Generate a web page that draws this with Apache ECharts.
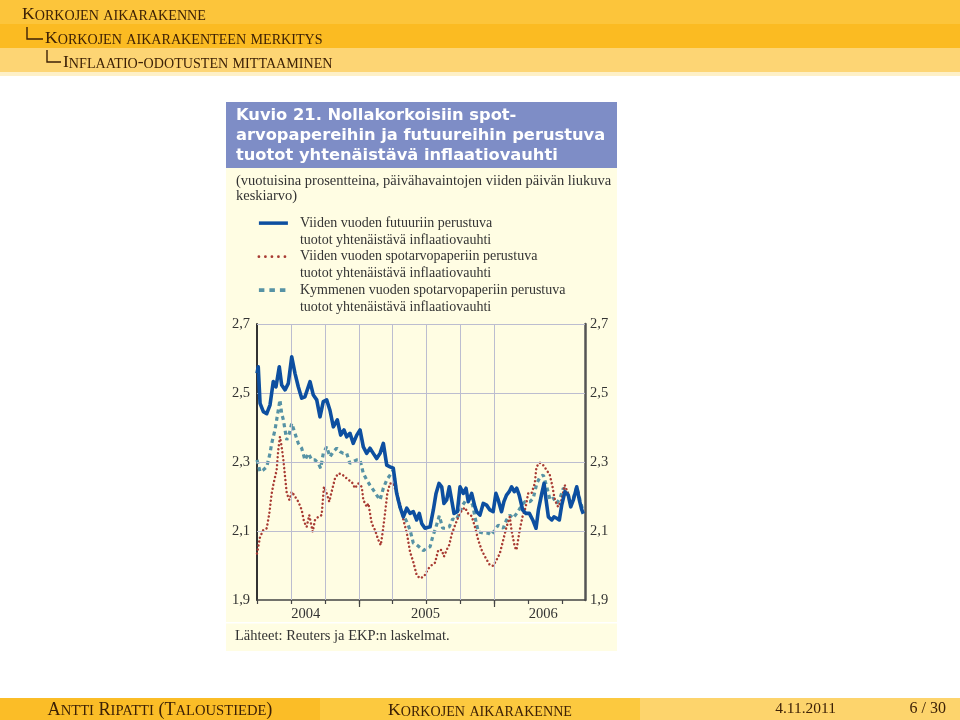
<!DOCTYPE html>
<html><head><meta charset="utf-8">
<script src="https://cdn.jsdelivr.net/npm/echarts@6/dist/echarts.min.js"></script>
<style>html,body{margin:0;padding:0;background:#fff}#c{width:960px;height:720px}</style>
</head><body><div id="c"></div>
<script>
// ---- data (x = months since 1 Jan 2004) ----
const futMonths = [3.0,3.11,3.27,3.56,3.86,4.15,4.44,4.68,4.97,5.18,5.48,5.77,6.07,6.36,6.65,6.95,7.24,7.69,7.98,8.28,8.57,8.86,9.16,9.45,9.75,10.10,10.40,10.69,10.93,11.22,11.51,11.82,12.11,12.40,12.70,12.99,13.28,13.58,13.88,14.17,14.47,14.76,15.05,15.35,15.64,15.94,16.24,16.53,16.82,17.12,17.35,17.56,17.85,18.30,18.59,18.83,19.09,19.33,19.53,19.77,20.00,20.21,20.42,20.71,20.95,21.24,21.48,21.68,21.98,22.27,22.42,22.71,23.00,23.30,23.59,23.88,24.12,24.33,24.62,24.83,25.06,25.30,25.51,25.75,25.96,26.18,26.49,26.78,27.08,27.38,27.67,27.88,28.18,28.38,28.56,28.76,29.06,29.26,29.50,29.73,29.94,30.23,30.52,30.74,30.97,31.27,31.50,31.72,31.85];
const futValues = [2.557,2.576,2.47,2.446,2.44,2.465,2.533,2.518,2.576,2.523,2.509,2.528,2.605,2.557,2.518,2.485,2.489,2.533,2.494,2.48,2.431,2.475,2.48,2.45,2.402,2.422,2.378,2.393,2.373,2.383,2.354,2.378,2.393,2.344,2.325,2.34,2.325,2.31,2.325,2.354,2.291,2.286,2.282,2.209,2.17,2.141,2.166,2.151,2.156,2.132,2.151,2.122,2.108,2.112,2.161,2.209,2.238,2.228,2.18,2.19,2.228,2.19,2.151,2.156,2.228,2.209,2.224,2.185,2.209,2.17,2.156,2.146,2.18,2.175,2.161,2.156,2.209,2.19,2.156,2.185,2.204,2.214,2.228,2.214,2.224,2.204,2.161,2.151,2.151,2.132,2.108,2.161,2.209,2.238,2.19,2.141,2.132,2.141,2.137,2.132,2.175,2.214,2.204,2.17,2.19,2.228,2.19,2.161,2.15];

const spot5Months = [3.0,3.11,3.27,3.56,3.86,4.09,4.30,4.50,4.74,4.88,5.03,5.18,5.33,5.48,5.63,5.86,6.07,6.36,6.65,6.95,7.16,7.39,7.62,7.92,8.13,8.42,8.72,8.92,9.16,9.39,9.60,9.90,10.19,10.49,10.78,11.07,11.37,11.66,11.96,12.26,12.40,12.70,12.85,13.14,13.43,13.73,13.94,14.12,14.32,14.52,14.76,15.05,15.35,15.64,15.94,16.24,16.53,16.82,17.12,17.41,17.77,18.15,18.45,18.74,19.03,19.33,19.53,19.77,20.00,20.21,20.51,20.80,21.10,21.39,21.68,21.98,22.27,22.56,22.86,23.15,23.59,23.88,24.18,24.47,24.77,25.06,25.35,25.50,25.79,25.94,26.23,26.47,26.76,26.97,27.27,27.56,27.71,28.00,28.30,28.60,28.89,29.13,29.33,29.62,29.92,30.21,30.50,30.79,31.08,31.38,31.68];
const spot5Values = [2.035,2.054,2.083,2.103,2.108,2.151,2.209,2.243,2.277,2.335,2.373,2.344,2.306,2.257,2.209,2.19,2.214,2.2,2.185,2.161,2.127,2.112,2.146,2.098,2.132,2.141,2.146,2.228,2.209,2.185,2.214,2.253,2.267,2.265,2.257,2.248,2.243,2.224,2.238,2.228,2.19,2.17,2.18,2.122,2.103,2.074,2.059,2.098,2.151,2.209,2.238,2.238,2.209,2.18,2.132,2.095,2.04,2.01,1.972,1.963,1.968,1.991,2.001,2.008,2.045,2.045,2.026,2.045,2.06,2.09,2.117,2.14,2.16,2.168,2.15,2.143,2.112,2.074,2.045,2.026,2.001,1.999,2.016,2.035,2.074,2.112,2.141,2.103,2.054,2.045,2.103,2.141,2.17,2.209,2.209,2.238,2.286,2.298,2.291,2.277,2.262,2.228,2.19,2.17,2.19,2.233,2.209,2.175,2.204,2.219,2.161];

const spot10Months = [3.0,3.27,3.56,3.86,4.15,4.30,4.59,4.88,5.03,5.18,5.33,5.48,5.63,5.86,6.07,6.36,6.65,6.95,7.24,7.54,7.84,8.13,8.42,8.63,8.86,9.16,9.45,9.75,10.05,10.34,10.63,10.93,11.22,11.51,11.82,12.11,12.40,12.70,12.99,13.28,13.58,13.88,14.17,14.47,14.76,15.05,15.35,15.64,15.94,16.24,16.53,16.82,17.12,17.41,17.70,18.00,18.30,18.53,18.83,19.12,19.42,19.71,20.00,20.30,20.60,20.89,21.19,21.48,21.77,22.07,22.27,22.56,23.00,23.44,23.74,24.03,24.33,24.77,25.06,25.35,25.64,26.08,26.40,26.70,27.14,27.43,27.74,28.03,28.32,28.62,28.91,29.20,29.50,29.79,30.08,30.38,30.67,30.97,31.27,31.56,31.80];
const spot10Values = [2.306,2.272,2.277,2.286,2.325,2.354,2.393,2.45,2.48,2.441,2.422,2.393,2.364,2.383,2.412,2.383,2.354,2.34,2.306,2.325,2.306,2.306,2.296,2.282,2.325,2.344,2.315,2.33,2.34,2.33,2.325,2.325,2.296,2.301,2.306,2.306,2.267,2.248,2.233,2.219,2.204,2.19,2.224,2.248,2.262,2.277,2.209,2.17,2.146,2.127,2.103,2.065,2.06,2.052,2.043,2.05,2.054,2.083,2.112,2.144,2.108,2.108,2.112,2.135,2.132,2.15,2.175,2.19,2.195,2.175,2.141,2.098,2.094,2.094,2.088,2.103,2.117,2.108,2.132,2.146,2.137,2.156,2.175,2.185,2.185,2.195,2.238,2.257,2.262,2.228,2.19,2.195,2.18,2.195,2.224,2.219,2.185,2.195,2.228,2.19,2.161];

const yTickValues = [1.9, 2.1, 2.3, 2.5, 2.7];
const yGridValues = [2.1, 2.3, 2.5, 2.7];
const xTickMonths = [3, 6, 9, 12, 15, 18, 21, 24, 27, 30];
const yearTickMonths = [12, 24];
const xGridMonths = [6, 9, 12, 15, 18, 21, 24];
const yearLabels = ['2004', '2005', '2006'];
const yearLabelMonths = [7.3, 17.9, 28.3];

const seriesNames = [
  'Viiden vuoden futuuriin perustuva\ntuotot yhtenäistävä inflaatiovauhti',
  'Viiden vuoden spotarvopaperiin perustuva\ntuotot yhtenäistävä inflaatiovauhti',
  'Kymmenen vuoden spotarvopaperiin perustuva\ntuotot yhtenäistävä inflaatiovauhti'
];
const titleLines = ['Kuvio 21. Nollakorkoisiin spot-', 'arvopapereihin ja futuureihin perustuva', 'tuotot yhtenäistävä inflaatiovauhti'];
const subtitleLines = ['(vuotuisina prosentteina, päivähavaintojen viiden päivän liukuva', 'keskiarvo)'];
const sourceText = 'Lähteet: Reuters ja EKP:n laskelmat.';
const headLines = ['Korkojen aikarakenne', 'Korkojen aikarakenteen merkitys', 'Inflaatio-odotusten mittaaminen'];
const footAuthor = 'Antti Ripatti (Taloustiede)';
const footTitle = 'Korkojen aikarakenne';
const footDate = '4.11.2011';
const footPage = '6 / 30';

// ---- helpers ----
const zip = (xs, ys) => xs.map((x, i) => [x, ys[i]]);
const fmtComma = v => v.toFixed(1).replace('.', ',');
const SERIF = '"Liberation Serif", "DejaVu Serif", serif';
const BROWN = '#3d2106';
function smallCaps(str) {
  let out = '', cur = null, buf = '';
  for (const ch of str) {
    const lower = ch !== ch.toUpperCase();
    const t = lower ? 's' : 'b';
    const c = lower ? ch.toUpperCase() : ch;
    if (t !== cur) { if (buf) out += '{' + cur + '|' + buf + '}'; cur = t; buf = c; }
    else buf += c;
  }
  if (buf) out += '{' + cur + '|' + buf + '}';
  return out;
}
const scRich = {
  b: { fontSize: 17.6, fontFamily: SERIF, fill: BROWN, verticalAlign: 'bottom', lineHeight: 20 },
  s: { fontSize: 14.1, fontFamily: SERIF, fill: BROWN, verticalAlign: 'bottom', lineHeight: 20 }
};
const scRichFoot = {
  b: { fontSize: 18.2, fontFamily: SERIF, fill: BROWN, verticalAlign: 'bottom', lineHeight: 20 },
  s: { fontSize: 14.6, fontFamily: SERIF, fill: BROWN, verticalAlign: 'bottom', lineHeight: 20 }
};
function scText(str, x, y, align, rich) {
  return { type: 'text', x: x, y: y, z: 5,
    style: { text: smallCaps(str), rich: rich || scRich, align: align || 'left', verticalAlign: 'middle', fill: BROWN, fontFamily: SERIF } };
}

const graphics = [
  // header bands
  { type: 'rect', shape: { x: 0, y: 0, width: 960, height: 24 }, style: { fill: '#fcc53b' }, z: -10 },
  { type: 'rect', shape: { x: 0, y: 24, width: 960, height: 24 }, style: { fill: '#fbbb22' }, z: -10 },
  { type: 'rect', shape: { x: 0, y: 48, width: 960, height: 24 }, style: { fill: '#fdd574' }, z: -10 },
  { type: 'rect', shape: { x: 0, y: 72, width: 960, height: 4 }, style: { fill: '#fef0c6' }, z: -10 },
  scText(headLines[0], 22, 13),
  { type: 'polyline', shape: { points: [[27, 27], [27, 39], [43, 39]] }, style: { stroke: BROWN, lineWidth: 1.4, fill: null }, z: 5 },
  scText(headLines[1], 45, 37),
  { type: 'polyline', shape: { points: [[47, 50], [47, 62], [61, 62]] }, style: { stroke: BROWN, lineWidth: 1.4, fill: null }, z: 5 },
  scText(headLines[2], 63, 61),
  // figure
  { type: 'rect', shape: { x: 226, y: 102, width: 391, height: 66 }, style: { fill: '#7e8dc6' }, z: -10 },
  { type: 'rect', shape: { x: 226, y: 168, width: 391, height: 483 }, style: { fill: '#fffde3' }, z: -10 },
  { type: 'rect', shape: { x: 226, y: 622, width: 391, height: 1.5 }, style: { fill: '#ffffff' }, z: -9 },
  ...titleLines.map((t, i) => ({ type: 'text', x: 236, y: 116 + i * 20, z: 5,
    style: { text: t, fill: '#ffffff', font: 'bold 16.3px "DejaVu Sans", sans-serif', verticalAlign: 'middle' } })),
  ...subtitleLines.map((t, i) => ({ type: 'text', x: 236, y: 181 + i * 15, z: 5,
    style: { text: t, fill: '#333333', font: '14.5px ' + SERIF, verticalAlign: 'middle' } })),
  { type: 'text', x: 235, y: 636, z: 5, style: { text: sourceText, fill: '#333333', font: '14.5px ' + SERIF, verticalAlign: 'middle' } },
  // footer
  { type: 'rect', shape: { x: 0, y: 698, width: 320, height: 22 }, style: { fill: '#fbbd27' }, z: -10 },
  { type: 'rect', shape: { x: 320, y: 698, width: 320, height: 22 }, style: { fill: '#fcc93f' }, z: -10 },
  { type: 'rect', shape: { x: 640, y: 698, width: 320, height: 22 }, style: { fill: '#fdd46c' }, z: -10 },
  scText(footAuthor, 160, 709, 'center', scRichFoot),
  scText(footTitle, 480, 709, 'center'),
  { type: 'text', x: 836, y: 709, z: 5, style: { text: footDate, fill: BROWN, font: '15.5px ' + SERIF, align: 'right', verticalAlign: 'middle' } },
  { type: 'text', x: 946, y: 709, z: 5, style: { text: footPage, fill: BROWN, font: '16px ' + SERIF, align: 'right', verticalAlign: 'middle' } }
];

const axisLabelStyle = { fontFamily: SERIF, fontSize: 14.5, color: '#333333' };

const chart = echarts.init(document.getElementById('c'), null, { renderer: 'canvas' });
chart.setOption({
  animation: false,
  backgroundColor: '#ffffff',
  graphic: graphics,
  grid: { left: 257, top: 324, width: 328, height: 276, containLabel: false },
  legend: {
    orient: 'vertical', left: 257, top: 198, padding: 0,
    itemWidth: 29, itemHeight: 8, itemGap: -16.75,
    itemStyle: { opacity: 0 },
    // a leading empty line keeps the sample centred on the first text line
    formatter: name => '\n' + name,
    textStyle: { fontFamily: SERIF, fontSize: 14, color: '#333333', lineHeight: 16.75, padding: [0, 0, 0, 7] },
    data: [
      { name: seriesNames[0], lineStyle: { width: 3.5, type: 'solid' } },
      { name: seriesNames[1], lineStyle: { width: 2.8, type: [0.01, 6.5], cap: 'round' } },
      { name: seriesNames[2], lineStyle: { width: 3.8, type: [5.5, 5], cap: 'butt' } }
    ]
  },
  xAxis: [
    { type: 'value', min: 3, max: 32,
      axisLine: { show: true, onZero: false, lineStyle: { color: '#444444', width: 1.5 } },
      axisTick: { show: true, customValues: xTickMonths, length: 4, lineStyle: { color: '#444444', width: 1.2 } },
      axisLabel: { show: true, customValues: yearLabelMonths, margin: 7, ...axisLabelStyle,
        formatter: v => { const i = yearLabelMonths.findIndex(m => Math.abs(m - v) < 1e-6); return i >= 0 ? yearLabels[i] : ''; } },
      splitLine: { show: false } },
    { type: 'value', min: 3, max: 32, position: 'bottom',
      axisLine: { show: false },
      axisTick: { show: true, customValues: yearTickMonths, length: 7, lineStyle: { color: '#444444', width: 1.2 } },
      axisLabel: { show: false }, splitLine: { show: false } }
  ],
  yAxis: [
    { type: 'value', min: 1.9, max: 2.7, position: 'left',
      axisLine: { show: true, onZero: false, lineStyle: { color: '#333333', width: 2 } },
      axisTick: { show: false },
      axisLabel: { customValues: yTickValues, formatter: fmtComma, margin: 7, ...axisLabelStyle },
      splitLine: { show: false } },
    { type: 'value', min: 1.9, max: 2.7, position: 'right',
      axisLine: { show: true, onZero: false, lineStyle: { color: '#555555', width: 2.5 } },
      axisTick: { show: false },
      axisLabel: { customValues: yTickValues, formatter: fmtComma, margin: 5, ...axisLabelStyle },
      splitLine: { show: false } }
  ],
  series: [
    { type: 'line', name: '__grid', data: [], z: 1, silent: true, legendHoverLink: false,
      markLine: { silent: true, symbol: 'none', label: { show: false }, animation: false,
        lineStyle: { color: '#bcbdd0', width: 1, type: 'solid' },
        emphasis: { disabled: true },
        data: xGridMonths.map(m => ({ xAxis: m })).concat(yGridValues.map(v => ({ yAxis: v }))) } },
    { type: 'line', name: seriesNames[2], data: zip(spot10Months, spot10Values), z: 3,
      symbol: 'none', showSymbol: false, color: '#5793a5',
      lineStyle: { color: '#5793a5', width: 3.2, type: [4, 3.5], cap: 'butt' } },
    { type: 'line', name: seriesNames[1], data: zip(spot5Months, spot5Values), z: 4,
      symbol: 'none', showSymbol: false, color: '#a83b33',
      lineStyle: { color: '#a83b33', width: 2.5, type: [0.01, 4], cap: 'round' } },
    { type: 'line', name: seriesNames[0], data: zip(futMonths, futValues), z: 5,
      symbol: 'none', showSymbol: false, color: '#0d4fa0',
      lineStyle: { color: '#0d4fa0', width: 3.6, type: 'solid', join: 'round' } }
  ]
});
</script></body></html>
